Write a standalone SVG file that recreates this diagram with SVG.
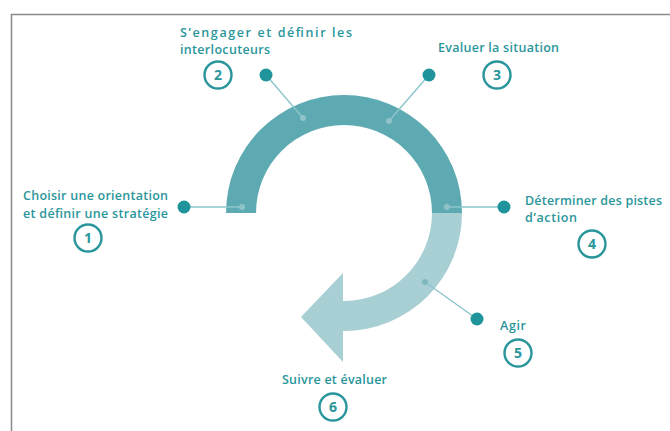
<svg xmlns="http://www.w3.org/2000/svg" width="670" height="431" viewBox="0 0 670 431">
  <style>
    .lbl { font-family: "Open Sans", "Noto Sans", "Liberation Sans", sans-serif; font-weight: 600; font-size: 12.5px; fill: #2a969b; }
    .num { font-family: "Open Sans", "Noto Sans", "Liberation Sans", sans-serif; font-weight: 700; font-size: 14px; fill: #2a969b; text-anchor: middle; }
    .badge { fill: #ffffff; stroke: #2a969b; stroke-width: 2.4; }
    .pin { fill: #1f959b; }
    .tick { fill: #8fc3c8; }
    .link { stroke: #8cc6cb; stroke-width: 1.4; fill: none; }
  </style>

  <!-- frame -->
  <path d="M11.5 431 V14.5 H670" fill="none" stroke="#8a8a8a" stroke-width="1.5"/>

  <!-- cycle ring: dark upper half, light lower quarter ending in arrowhead -->
  <g id="ring">
    <path d="M226 213 A118 118 0 0 1 462 213 L432 213 A88 88 0 0 0 256 213 Z" fill="#5eaab2"/>
    <path d="M462 213 A118 118 0 0 1 344 331 L343 331 L343 362 L301 317 L343 273 L343 301 L344 301 A88 88 0 0 0 432 213 Z" fill="#a7cfd4"/>
  </g>

  <!-- connectors from ring to pins -->
  <g id="connectors">
    <line class="link" x1="242" y1="207" x2="184" y2="207"/>
    <line class="link" x1="303" y1="118" x2="266" y2="75"/>
    <line class="link" x1="389" y1="121" x2="429" y2="75"/>
    <line class="link" x1="447" y1="207" x2="504" y2="207"/>
    <line class="link" x1="425" y1="282" x2="477" y2="319"/>
    <circle class="tick" cx="242" cy="207" r="3"/>
    <circle class="tick" cx="303" cy="118" r="3"/>
    <circle class="tick" cx="389" cy="121" r="3"/>
    <circle class="tick" cx="447" cy="207" r="3"/>
    <circle cx="425" cy="282" r="3" fill="#7fb9bf"/>
  </g>

  <g id="step1">
    <circle class="pin" cx="184" cy="207" r="6.5"/>
    <text class="lbl" x="23" y="200" textLength="145">Choisir une orientation</text>
    <text class="lbl" x="23" y="218" textLength="145">et définir une stratégie</text>
    <circle class="badge" cx="88" cy="238" r="13.5"/>
    <text class="num" x="88" y="243">1</text>
  </g>

  <g id="step2">
    <circle class="pin" cx="266" cy="75" r="6.5"/>
    <text class="lbl" x="180" y="37" textLength="172">S’engager et définir les</text>
    <text class="lbl" x="180" y="54" textLength="90">interlocuteurs</text>
    <circle class="badge" cx="218" cy="75" r="13.5"/>
    <text class="num" x="218" y="80">2</text>
  </g>

  <g id="step3">
    <circle class="pin" cx="429" cy="75" r="6.5"/>
    <text class="lbl" x="438" y="52" textLength="121">Evaluer la situation</text>
    <circle class="badge" cx="497" cy="75" r="13.5"/>
    <text class="num" x="497" y="80">3</text>
  </g>

  <g id="step4">
    <circle class="pin" cx="504" cy="207" r="6.5"/>
    <text class="lbl" x="525" y="205" textLength="137">Déterminer des pistes</text>
    <text class="lbl" x="525" y="222" textLength="52">d’action</text>
    <circle class="badge" cx="592" cy="244" r="13.5"/>
    <text class="num" x="592" y="249">4</text>
  </g>

  <g id="step5">
    <circle class="pin" cx="477" cy="319" r="6.5"/>
    <text class="lbl" x="500" y="330" textLength="26">Agir</text>
    <circle class="badge" cx="518" cy="353" r="13.5"/>
    <text class="num" x="518" y="358">5</text>
  </g>

  <g id="step6">
    <text class="lbl" x="282" y="384" textLength="105">Suivre et évaluer</text>
    <circle class="badge" cx="333" cy="407" r="13.5"/>
    <text class="num" x="333" y="412">6</text>
  </g>
</svg>
